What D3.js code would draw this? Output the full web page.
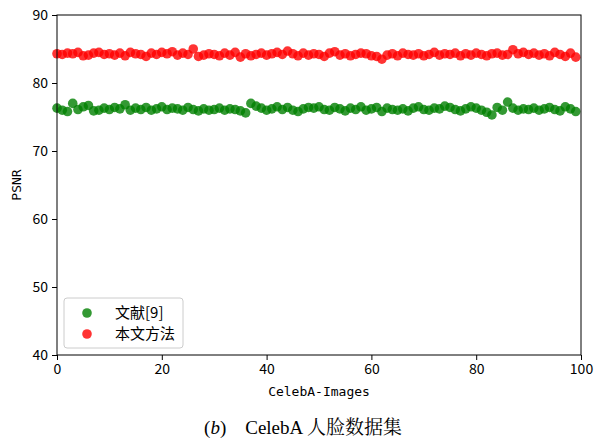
<!DOCTYPE html>
<html>
<head>
<meta charset="utf-8">
<script src="https://cdn.jsdelivr.net/npm/d3@7"></script>
<style>
  body { margin: 0; background: #fff; }
  text { font-family: "Noto Sans CJK SC", "DejaVu Sans", sans-serif; }
</style>
</head>
<body>
<script>
const xTicks = [0, 20, 40, 60, 80, 100];
const yTicks = [40, 50, 60, 70, 80, 90];
const seriesNames = ["文献[9]", "本文方法"];

const refValues = [
  76.3, 76.0, 75.8, 77.0, 76.1, 76.5, 76.7, 75.9, 76.0, 76.3,
  76.1, 76.4, 76.2, 76.8, 76.0, 76.3, 76.1, 76.4, 76.0, 76.2,
  76.5, 76.1, 76.3, 76.2, 76.0, 76.4, 76.1, 75.9, 76.2, 76.0,
  76.1, 76.3, 76.0, 76.2, 76.1, 75.9, 75.6, 77.0, 76.6, 76.3,
  76.0, 76.2, 76.5, 76.1, 76.4, 76.0, 75.8, 76.2, 76.4, 76.3,
  76.5, 76.1, 76.0, 76.4, 76.2, 75.9, 76.3, 76.1, 76.5, 76.0,
  76.2, 76.4, 75.8, 76.3, 76.1, 76.0, 76.2, 75.9, 76.3, 76.5,
  76.1, 76.0, 76.3, 76.2, 76.6, 76.4, 76.1, 75.9, 76.2, 76.5,
  76.3, 76.0, 75.7, 75.3, 76.4, 76.0, 77.2, 76.3, 76.0, 76.2,
  76.1, 76.3, 76.0, 76.2, 76.4, 76.1, 75.9, 76.5, 76.2, 75.8
];

const oursValues = [
  84.3, 84.2, 84.4, 84.3, 84.5, 84.0, 84.1, 84.4, 84.5, 84.2,
  84.3, 84.1, 84.4, 84.0, 84.5, 84.3, 84.2, 83.9, 84.4, 84.2,
  84.5, 84.3, 84.6, 84.1, 84.4, 84.2, 85.0, 83.9, 84.1, 84.3,
  84.2, 84.0, 84.4, 84.1, 84.5, 83.8, 84.3, 84.0, 84.2, 84.4,
  84.1, 84.3, 84.5, 84.2, 84.7, 84.3, 84.0, 84.4, 84.1, 84.3,
  84.2, 83.9, 84.4, 84.6, 84.1, 84.3, 84.0, 84.2, 84.4, 84.3,
  84.0, 83.9, 83.5, 84.1, 84.3, 84.0, 84.4, 84.2, 84.1, 84.3,
  84.0, 84.2, 84.5, 84.1, 84.3, 84.2, 84.4, 84.0, 84.3, 84.1,
  84.4, 84.2, 84.0, 84.3, 84.4, 84.1, 84.2, 84.9, 84.3, 84.5,
  84.2, 84.4, 84.1, 84.3, 84.0, 84.5, 84.2, 83.9, 84.4, 83.8
];

const colors = ["green", "red"];

const svg = d3.select('body')
    .append('svg')
    .attr("width", 598)
    .attr("height", 440);

const plotLeft = 57, plotRight = 581, plotTop = 15, plotBottom = 355;

const x = d3.scaleLinear().domain([0, 100]).range([plotLeft, plotRight]);
const y = d3.scaleLinear().domain([40, 90]).range([plotBottom, plotTop]);

// points
[refValues, oursValues].forEach((vals, k) => {
    svg.append('g').selectAll('circle')
        .data(vals)
        .enter().append('circle')
        .attr('cx', (d, i) => x(i))
        .attr('cy', d => y(d))
        .attr('r', 4.8)
        .attr('fill', colors[k])
        .attr('fill-opacity', 0.8);
});

// axes
const xAxis = svg.append('g')
    .attr('transform', `translate(0,${plotBottom})`)
    .call(d3.axisBottom(x).tickValues(xTicks).tickSize(5).tickPadding(4));
const yAxis = svg.append('g')
    .attr('transform', `translate(${plotLeft},0)`)
    .call(d3.axisLeft(y).tickValues(yTicks).tickSize(5).tickPadding(4));

[xAxis, yAxis].forEach(a => {
    a.select('.domain').remove();
    a.selectAll('line').attr('stroke', '#000').attr('stroke-width', 1);
    a.selectAll('text').attr('font-size', 14).attr('fill', '#000')
        .style('font-family', '"Noto Sans CJK SC", sans-serif');
});

// frame
svg.append('rect')
    .attr('x', plotLeft).attr('y', plotTop)
    .attr('width', plotRight - plotLeft).attr('height', plotBottom - plotTop)
    .attr('fill', 'none').attr('stroke', '#000').attr('stroke-width', 1);

// axis labels
svg.append('text')
    .attr('x', (plotLeft + plotRight) / 2).attr('y', 396)
    .attr('text-anchor', 'middle')
    .style('font-family', '"DejaVu Sans Mono", monospace')
    .attr('font-size', 13)
    .text('CelebA-Images');

svg.append('text')
    .attr('transform', `translate(21,${(plotTop + plotBottom) / 2}) rotate(-90)`)
    .attr('text-anchor', 'middle')
    .style('font-family', '"DejaVu Sans Mono", monospace')
    .attr('font-size', 13)
    .text('PSNR');

// legend
const legend = svg.append('g');
legend.append('rect')
    .attr('x', 64).attr('y', 298)
    .attr('width', 119).attr('height', 50)
    .attr('rx', 3)
    .attr('fill', '#fff').attr('fill-opacity', 0.8)
    .attr('stroke', '#ccc');
seriesNames.forEach((name, k) => {
    const ly = 313 + k * 21;
    legend.append('circle')
        .attr('cx', 87).attr('cy', ly).attr('r', 4.8)
        .attr('fill', colors[k]).attr('fill-opacity', 0.8);
    legend.append('text')
        .attr('x', 115).attr('y', ly + 5)
        .attr('font-size', 15)
        .text(name);
});

// caption
const cap = svg.append('text')
    .attr('x', 303).attr('y', 434)
    .attr('text-anchor', 'middle')
    .attr('font-size', 19)
    .style('font-family', '"Liberation Serif", "Noto Serif CJK SC", serif');
cap.append('tspan').text('(');
cap.append('tspan').attr('font-style', 'italic').text('b');
cap.append('tspan').text(')\u2003CelebA 人脸数据集');
</script>
</body>
</html>
